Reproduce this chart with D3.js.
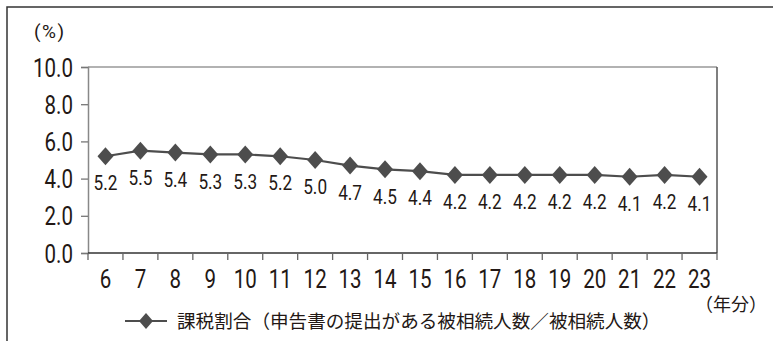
<!DOCTYPE html>
<html><head><meta charset="utf-8">
<script src="https://cdn.jsdelivr.net/npm/d3@7"></script>
<style>body{margin:0;background:#fff}svg{display:block}text{font-family:Roboto,"Noto Sans CJK JP",sans-serif;fill:#231815}</style>
</head><body><svg id="c" width="773" height="341"></svg>
<script>
const years = ["6","7","8","9","10","11","12","13","14","15","16","17","18","19","20","21","22","23"];
const ratio = [5.2,5.5,5.4,5.3,5.3,5.2,5.0,4.7,4.5,4.4,4.2,4.2,4.2,4.2,4.2,4.1,4.2,4.1];
const yTicks = [0,2,4,6,8,10];
const seriesName = "課税割合（申告書の提出がある被相続人数／被相続人数）";
const yUnit = "(%)";
const xUnit = "（年分）";

const svg = d3.select("#c");
const L=88, R=717, T=67, B=253;
const x = d3.scaleBand().domain(years).range([L,R]);
const y = d3.scaleLinear().domain([0,10]).range([B,T]);
const col = "#4d4d4d";
const SX = 0.82;

// outer frame
svg.append("path").attr("d","M7,341V7H773").attr("fill","none").attr("stroke","#333").attr("stroke-width",1.5);

// plot top & right border
svg.append("line").attr("x1",L).attr("x2",R).attr("y1",T).attr("y2",T).attr("stroke","#999").attr("stroke-width",1.5);
svg.append("line").attr("x1",R).attr("x2",R).attr("y1",T).attr("y2",B).attr("stroke","#555").attr("stroke-width",1.5);

// y axis
const ya = svg.append("g").attr("transform",`translate(${L},0)`)
  .call(d3.axisLeft(y).tickValues(yTicks).tickFormat(d3.format(".1f")).tickSize(7).tickPadding(8));
ya.select(".domain").attr("stroke","#888").attr("stroke-width",1.5);
ya.selectAll(".tick line").attr("stroke","#777").attr("stroke-width",1.3);
ya.selectAll(".tick text").attr("font-size",25).attr("font-family","Roboto, sans-serif").attr("fill","#231815")
  .attr("x",0).attr("dy","0.36em").attr("transform",`translate(-15,0) scale(${SX},1)`);

// x axis: ticks at band boundaries
const xa = svg.append("g").attr("transform",`translate(0,${B})`);
xa.append("line").attr("x1",L).attr("x2",R).attr("stroke","#333").attr("stroke-width",1.5);
const bounds = years.map(d=>x(d)).concat([R]);
xa.selectAll("line.t").data(bounds).join("line").attr("class","t")
  .attr("x1",d=>d).attr("x2",d=>d).attr("y1",0).attr("y2",7).attr("stroke","#666").attr("stroke-width",1.3);
xa.selectAll("text").data(years).join("text")
  .attr("transform",d=>`translate(${x(d)+x.bandwidth()/2},26) scale(${SX},1)`).attr("dy","0.36em")
  .attr("text-anchor","middle").attr("font-size",25).text(d=>d);

// line
const cx = d=>x(d)+x.bandwidth()/2;
svg.append("path").datum(ratio)
  .attr("d", d3.line().x((d,i)=>cx(years[i])).y(d=>y(d)))
  .attr("fill","none").attr("stroke",col).attr("stroke-width",2.2);

const diamond = "M0,-9L8,0L0,9L-8,0Z";
svg.selectAll("path.m").data(ratio).join("path").attr("class","m")
  .attr("d",diamond).attr("fill",col)
  .attr("transform",(d,i)=>`translate(${cx(years[i])},${y(d)})`);

svg.selectAll("text.v").data(ratio).join("text").attr("class","v")
  .attr("transform",(d,i)=>`translate(${cx(years[i])},${y(d)+27}) scale(0.86,1)`).attr("dy","0.36em")
  .attr("text-anchor","middle").attr("font-size",20).text(d=>d.toFixed(1));

// units
svg.append("text").attr("x",34).attr("y",31).attr("dy","0.36em").attr("font-size",19)
  .attr("letter-spacing",1.5).text(yUnit);
svg.append("text").attr("x",767).attr("y",305).attr("dy","0.36em").attr("text-anchor","end")
  .attr("font-size",18).attr("font-family","'Noto Sans CJK JP'").text(xUnit);

// legend
const lg = svg.append("g").attr("transform","translate(0,321)");
lg.append("line").attr("x1",125).attr("x2",167).attr("stroke",col).attr("stroke-width",2.2);
lg.append("path").attr("d","M0,-8L7,0L0,8L-7,0Z").attr("fill",col).attr("transform","translate(146,0)");
lg.append("text").attr("x",177).attr("y",0).attr("dy","0.36em").attr("font-size",18.6)
  .attr("font-family","'Noto Sans CJK JP'").text(seriesName);
</script></body></html>
